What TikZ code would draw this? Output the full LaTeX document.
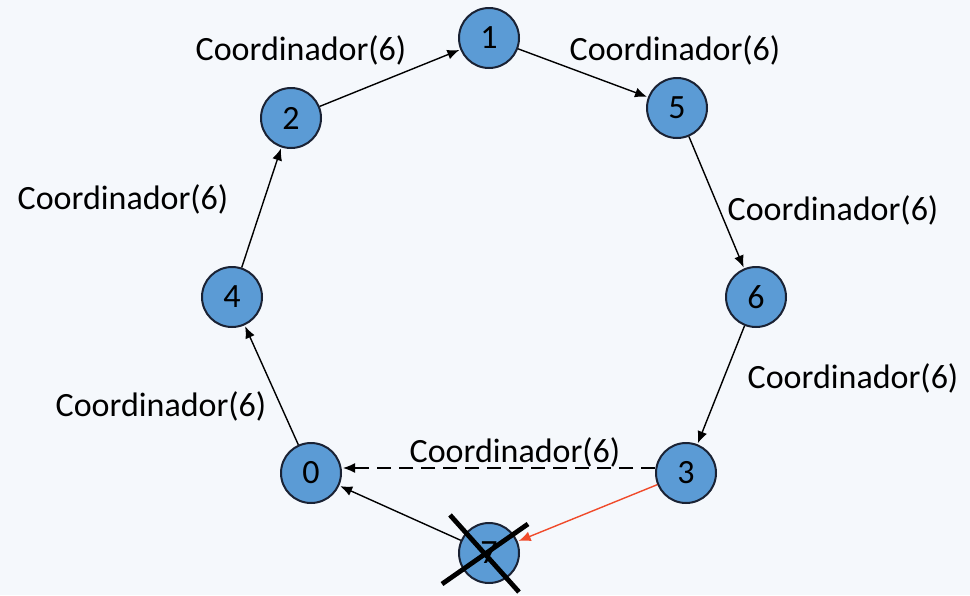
\documentclass[tikz,border=0pt]{standalone}
\usepackage{fontspec}
\setmainfont{Carlito}
\usetikzlibrary{arrows.meta}
\definecolor{bgc}{HTML}{F5F8FC}
\definecolor{nodefill}{HTML}{5B9BD5}
\definecolor{nodeline}{HTML}{1A2234}
\definecolor{redarrow}{HTML}{F04A2A}
\tikzset{
  proc/.style={circle, draw=nodeline, line width=1pt, fill=nodefill, minimum size=30pt, inner sep=0pt, font=\fontsize{17}{20}\selectfont},
  lbl/.style={font=\fontsize{17}{20}\selectfont, inner sep=0pt},
  msg/.style={line width=0.7pt, -{Latex[length=6pt,width=5pt]}, shorten >=0.5pt},
  crossline/.style={line width=2.4pt, black}
}
\begin{document}
\begin{tikzpicture}[x=0.5pt,y=-0.5pt]
\fill[bgc] (0,0) rectangle (970,595);
\useasboundingbox (0,0) rectangle (970,595);
\node[proc] (n1) at (489,38) {1};
\node[proc] (n2) at (291,118) {2};
\node[proc] (n5) at (677,108) {5};
\node[proc] (n4) at (232,297) {4};
\node[proc] (n6) at (756,297) {6};
\node[proc] (n0) at (311,473) {0};
\node[proc] (n3) at (686,473) {3};
\node[proc] (n7) at (489,553) {7};
% labels
\node[lbl] (l21) at (301,50) {Coordinador(6)};
\node[lbl] (l15) at (675,50) {Coordinador(6)};
\node[lbl] (l56) at (833,210) {Coordinador(6)};
\node[lbl] (l42) at (123,199) {Coordinador(6)};
\node[lbl] (l63) at (853,378) {Coordinador(6)};
\node[lbl] (l04) at (161,406) {Coordinador(6)};
\node[lbl] (l30) at (515,452) {Coordinador(6)};
% connectors
\draw[msg] (n2) -- (n1);
\draw[msg] (n1) -- (n5);
\draw[msg] (n5) -- (n6);
\draw[msg] (n6) -- (n3);
\draw[msg, dashed, dash pattern=on 7pt off 4pt] ([yshift=2.5pt]n3.west) -- ([yshift=2.5pt]n0.east);
\draw[msg, redarrow] (n3) -- (n7);
\draw[msg] (n7) -- (n0);
\draw[msg] (n0) -- (n4);
\draw[msg] (n4) -- (n2);
% cross over node 7
\coordinate (c1a) at (450,515);
\coordinate (c1b) at (519,592);
\coordinate (c2a) at (528,524);
\coordinate (c2b) at (442,584);
\draw[crossline] (c1a) -- (c1b);
\draw[crossline] (c2a) -- (c2b);
\end{tikzpicture}
\end{document}
